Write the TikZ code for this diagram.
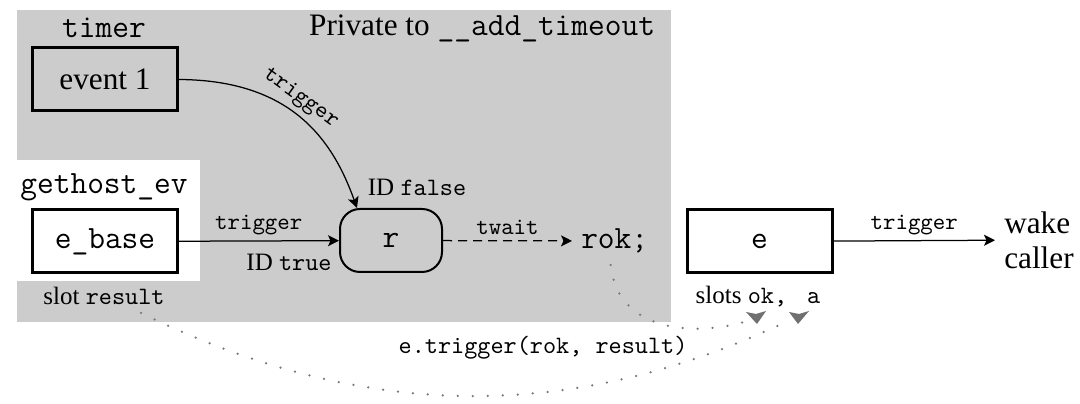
\documentclass[tikz,border=0pt]{standalone}
\usepackage{fontspec}
\setmainfont{Liberation Serif}
\usetikzlibrary{arrows.meta,calc}
\definecolor{privgray}{RGB}{204,204,204}
\definecolor{dotgray}{RGB}{120,120,120}
\definecolor{tipgray}{RGB}{112,112,112}
\newcommand\codebig[1]{{\fontsize{13}{15}\selectfont\ttfamily #1}}
\newcommand\codemid[1]{{\fontsize{10}{12}\selectfont\ttfamily #1}}
\begin{document}
\begin{tikzpicture}[x=0.4pt,y=-0.4pt,
  evbox/.style={draw,line width=1.2pt,minimum width=57.6pt,minimum height=25.2pt,inner sep=0pt},
  rbox/.style={draw,line width=0.8pt,rounded corners=8pt,minimum width=40.8pt,minimum height=25.2pt,inner sep=0pt},
  bigrm/.style={font=\fontsize{12.5}{14}\selectfont},
  bigtt/.style={font=\fontsize{13}{15}\selectfont\ttfamily},
  lbltt/.style={font=\fontsize{9.5}{11}\selectfont\ttfamily,inner sep=1pt},
  lblrm/.style={font=\fontsize{10}{12}\selectfont,inner sep=1pt},
  conn/.style={line width=0.5pt,-{Stealth[length=4.4pt,width=4.4pt,inset=1pt]}},
  dotconn/.style={dotgray,line width=1pt,line cap=round,dash pattern=on 0pt off 6pt},
]
\useasboundingbox (0,0) rectangle (1080,404);

% region private to __add_timeout, with the gethost_ev corner cut out
\fill[privgray] (17,10) rectangle (671,322);
\fill[white] (17,160) rectangle (200,281);

% event objects
\node[bigtt] (timer) at (104,28) {timer};
\node[evbox,bigrm] (event1) at (105,79.5) {event 1};
\node[bigrm,anchor=east] (private) at (664,28) {Private to \codebig{\_\_add\_timeout}};

\node[bigtt] (gethost) at (104,187) {gethost\_ev};
\node[evbox,bigtt,fill=white] (ebase) at (105,241.5) {e\_base};
\node[lblrm] (slotres) at (104,296) {slot \codemid{result}};

\node[rbox,bigtt] (r) at (391,240.5) {r};
\node[bigtt,anchor=west,inner xsep=3.5pt] (rok) at (572,241) {rok;};

\node[evbox,bigtt,fill=white,minimum width=58pt] (e) at (759.5,241.5) {e};
\node[lblrm] (slots) at (758,297) {slots \codemid{ok,}\kern8pt\codemid{a}};
\node[bigrm,anchor=west,align=left,inner xsep=3.5pt] (wake) at (995,240) {wake\\caller};

% branch labels on r
\node[lblrm] (idfalse) at (417,187) {ID \codemid{false}};
\node[lblrm] (idtrue) at (289,262) {ID \codemid{true}};

% triggers
\draw[conn] (event1.east) .. controls (290,80) and (332,138) ..
  node[lbltt,sloped,above=1pt,pos=0.45] {trigger} ($(r.north west)+(18,0)$);
\draw[conn] (ebase) -- node[lbltt,above=1pt] {trigger} (r);
\draw[conn,dash pattern=on 3.6pt off 2.4pt] (r) -- node[lbltt,above=1pt] {twait} (rok);
\draw[conn] (e) -- node[lbltt,above=1pt] {trigger} (wake);

% slot transfer by e.trigger(rok, result)
\coordinate (okin) at (748,321);
\coordinate (ain) at (790,320);
\draw[dotconn] ($(rok.center)+(-4,24)$) .. controls (617,330) and (690,338) .. (okin);
\draw[dotconn] ($(slotres.center)+(37,17)$) .. controls (360,420) and (570,425) .. (ain);
\fill[tipgray] (okin) ++(-2,-9) -- ++(10,2) -- ++(10,-3) -- ++(-9,13) -- cycle;
\fill[tipgray] (ain) ++(-1,-8) -- ++(10,2) -- ++(10,-3) -- ++(-11,13) -- cycle;
\node[font=\fontsize{10}{12}\selectfont\ttfamily] (etrig) at (543,348) {e.trigger(rok, result)};
\end{tikzpicture}
\end{document}
